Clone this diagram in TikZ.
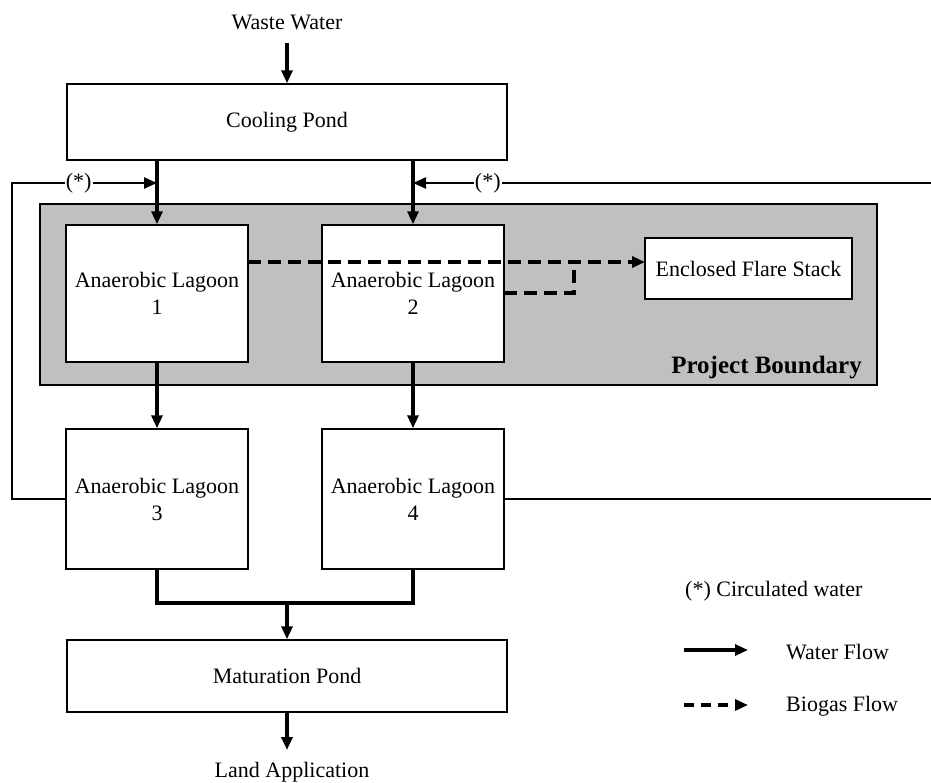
\documentclass[tikz,border=0pt]{standalone}
\usepackage{fontspec}
\setmainfont{Liberation Serif}
\usetikzlibrary{arrows.meta}
\begin{document}
\begin{tikzpicture}[x=1pt,y=-1pt,
  txt/.style={font=\fontsize{22}{27}\selectfont, inner sep=0pt},
  box/.style={draw, line width=1.5pt, fill=white, font=\fontsize{22}{27}\selectfont, align=center, inner sep=0pt},
  tip/.style={-{Triangle[length=13pt,width=11pt]}},
  flow/.style={line width=3.2pt, tip},
  plain/.style={line width=3.2pt},
  circ/.style={line width=2.4pt},
  gas/.style={line width=3.2pt, dash pattern=on 13pt off 7pt},
  lbl/.style={fill=white, font=\fontsize{22}{27}\selectfont, inner sep=1pt}]
\useasboundingbox (0,0) rectangle (931,782);
% project boundary
\node[draw, line width=1.5pt, fill={rgb,255:red,192;green,192;blue,192}, minimum width=837pt, minimum height=181pt, inner sep=0pt] (pb) at (458.5,294.5) {};
\node[font=\bfseries\fontsize{25}{30}\selectfont, anchor=east, inner sep=0pt] (pbl) at (862,368) {Project Boundary};
% boxes
\node[txt] (ww) at (287,22) {Waste Water};
\coordinate (wwa) at (287,43);
\node[box, minimum width=440pt, minimum height=76pt] (cp) at (287,122) {Cooling Pond};
\node[box, minimum width=182pt, minimum height=137pt] (l1) at (157,293.5) {Anaerobic Lagoon\\1};
\node[box, minimum width=182pt, minimum height=137pt] (l2) at (413,293.5) {Anaerobic Lagoon\\2};
\node[box, minimum width=207pt, minimum height=61pt] (fs) at (748.5,268.5) {Enclosed Flare Stack};
\node[box, minimum width=182pt, minimum height=140pt] (l3) at (157,499) {Anaerobic Lagoon\\3};
\node[box, minimum width=182pt, minimum height=140pt] (l4) at (413,499) {Anaerobic Lagoon\\4};
\node[box, minimum width=440pt, minimum height=72pt] (mp) at (287,676) {Maturation Pond};
\coordinate (laa) at (287,750);
\node[txt] (la) at (292,772) {Land Application};
% water flows
\draw[flow] (wwa) -- (cp.north);
\draw[flow] (cp.south -| l1.north) -- (l1.north);
\draw[flow] (cp.south -| l2.north) -- (l2.north);
\draw[flow] (l1.south) -- (l3.north);
\draw[flow] (l2.south) -- (l4.north);
\coordinate (jn) at (287,603);
\draw[plain] (l3.south) |- (jn) -| (l4.south);
\draw[flow] (jn) -- (mp.north);
\draw[flow] (mp.south) -- (laa);
% circulated water
\coordinate (cl1) at (12,499);
\coordinate (cl2) at (12,183);
\coordinate (cl3) at (157,183);
\draw[circ, tip] (l3.west) -- (cl1) -- (cl2) -- node[lbl, pos=0.46] {(*)} (cl3);
\coordinate (cr1) at (936,499);
\coordinate (cr2) at (936,183);
\coordinate (cr3) at (413,183);
\draw[circ, tip] (l4.east) -- (cr1) -- (cr2) -- node[lbl, pos=0.857] {(*)} (cr3);
% biogas
\coordinate (g1) at (248,262);
\coordinate (g2) at (574,262);
\coordinate (g3) at (504,293);
\coordinate (g4) at (574,293);
\coordinate (g5) at (645,262);
\draw[gas, tip] (g1) -- (g5);
\draw[gas] (g3) -- (g4) -- (g2);
% legend
\node[txt, anchor=west] (lc) at (685,591) {(*) Circulated water};
\coordinate (lw1) at (684,650);
\coordinate (lw2) at (748,650);
\draw[flow] (lw1) -- (lw2);
\node[txt, anchor=west] (lwt) at (786,652) {Water Flow};
\coordinate (lg1) at (684,705);
\coordinate (lg2) at (748,705);
\draw[gas, tip, dash pattern=on 10pt off 7pt] (lg1) -- (lg2);
\node[txt, anchor=west] (lgt) at (786,706) {Biogas Flow};
\end{tikzpicture}
\end{document}
